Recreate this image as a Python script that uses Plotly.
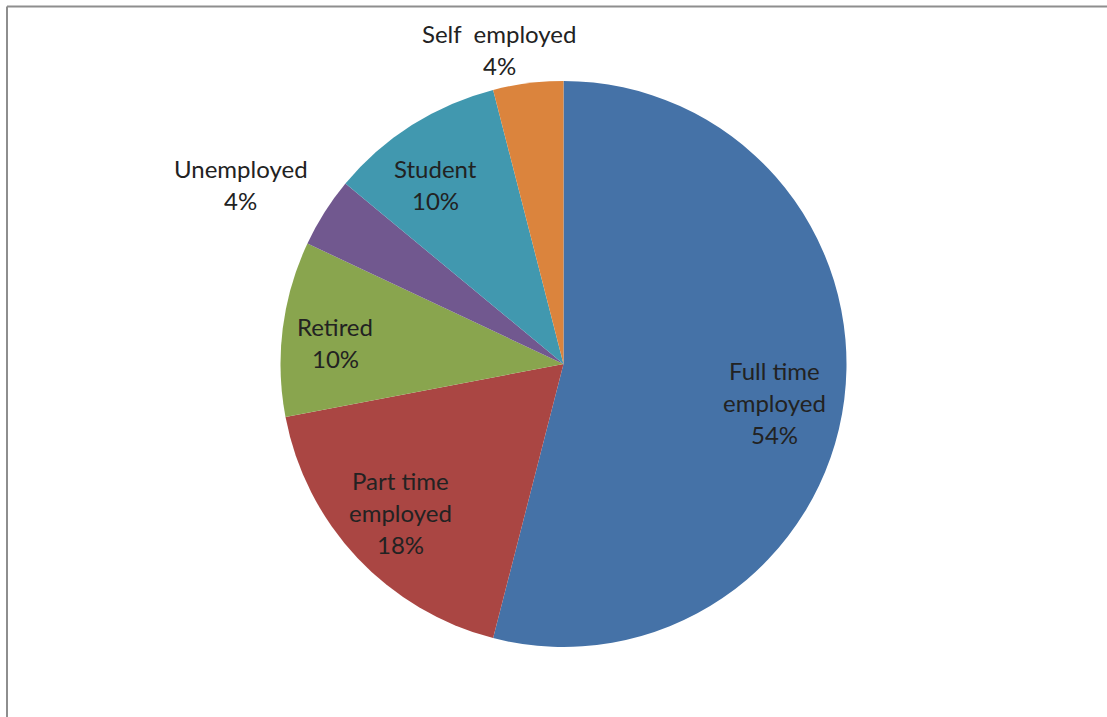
import math
import plotly.graph_objects as go

# Employment status of respondents (percent)
categories = ["Full time employed", "Part time employed", "Retired",
              "Unemployed", "Student", "Self employed"]
label_lines = [["Full time", "employed"], ["Part time", "employed"], ["Retired"],
               ["Unemployed"], ["Student"], ["Self  employed"]]
values = [54, 18, 10, 4, 10, 4]
colors = ["#4572A7", "#AA4643", "#89A54E", "#71588F", "#4198AF", "#DB843D"]

W, H = 1107, 717
CX, CY, R = 563.5, 364, 283  # pie centre and radius in pixels
LINE_GAP = 32                # distance between label lines in pixels

# label placement: radial factor and pixel nudge per slice
label_radius = [0.76, 0.78, 0.81, 1.30, 0.78, 1.13]
label_nudge = [(-2, 12), (-2, -3), (-1, 7), (-12, 18), (-10, 7), (-24, 3)]

fig = go.Figure(go.Pie(
    labels=categories,
    values=values,
    sort=False,
    direction="clockwise",
    rotation=0,
    marker=dict(colors=colors, line=dict(width=0)),
    textinfo="none",
    hoverinfo="label+percent",
    showlegend=False,
    domain=dict(x=[(CX - R) / W, (CX + R) / W],
                y=[(H - CY - R) / H, (H - CY + R) / H]),
))

total = sum(values)
cum = 0
annotations = []
for lines, v, rf, (nx, ny) in zip(label_lines, values, label_radius, label_nudge):
    mid = (cum + v / 2) / total * 2 * math.pi
    cum += v
    px = CX + rf * R * math.sin(mid) + nx
    py = CY - rf * R * math.cos(mid) + ny
    pct = round(v / total * 100)
    rows = lines + [f"{pct}%"]
    n = len(rows)
    for i, row in enumerate(rows):
        ly = py + (i - (n - 1) / 2) * LINE_GAP
        annotations.append(dict(
            x=px / W, y=1 - ly / H, xref="paper", yref="paper",
            text=row, showarrow=False,
            xanchor="center", yanchor="middle",
            font=dict(family="Lato, Open Sans, sans-serif", size=24, color="#222222"),
        ))

fig.update_layout(
    width=W, height=H,
    margin=dict(l=0, r=0, t=0, b=0),
    paper_bgcolor="#ffffff",
    annotations=annotations,
    shapes=[
        dict(type="line", xref="paper", yref="paper",
             x0=7 / W, x1=1.02, y0=1 - 6.5 / H, y1=1 - 6.5 / H,
             line=dict(color="#8e8e8e", width=2)),
        dict(type="line", xref="paper", yref="paper",
             x0=7 / W, x1=7 / W, y0=1 - 6.5 / H, y1=-0.02,
             line=dict(color="#8e8e8e", width=2)),
    ],
)

fig.write_html("out.html")
